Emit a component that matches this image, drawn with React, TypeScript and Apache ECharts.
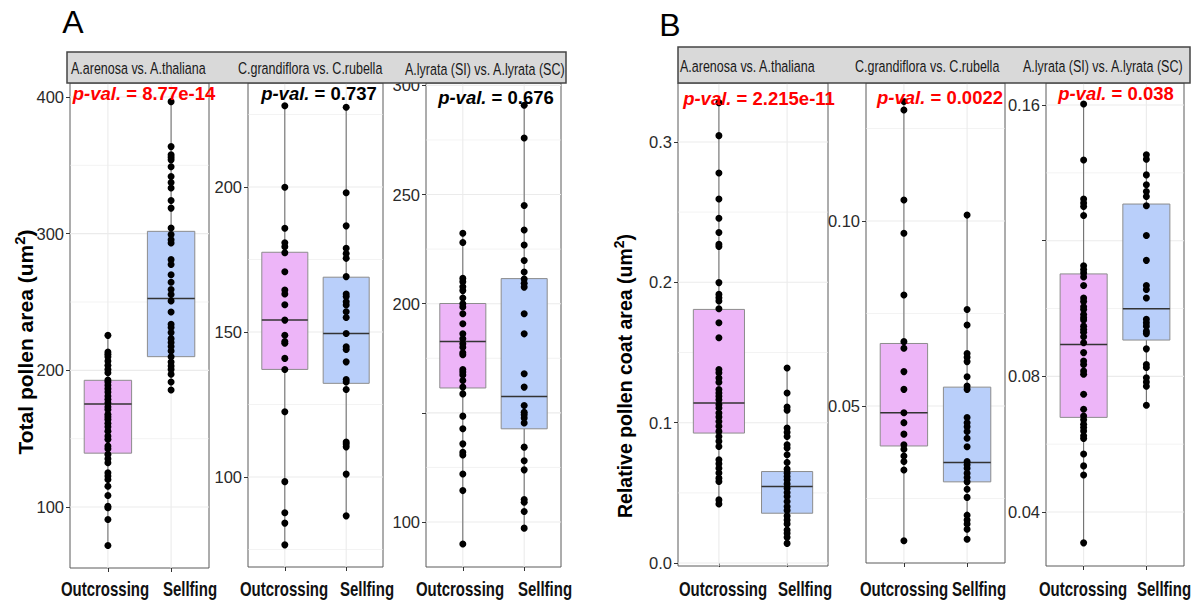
import React, { useEffect, useRef } from "react";
import * as echarts from "echarts";

// ---------- data ----------
const categories = ["Outcrossing", "Sellfing"];
const stripTitles = ["A.arenosa vs. A.thaliana", "C.grandiflora vs. C.rubella", "A.lyrata (SI) vs. A.lyrata (SC)"];
const titleA = "Total pollen area (um";
const titleB = "Relative pollen coat area (um";

// Panel A: total pollen area
const a1Out = [225.6, 213.4, 211.7, 210.0, 206.8, 203.7, 200.7, 198.3, 192.9, 191.4, 189.0, 186.6, 184.1, 181.2, 178.8, 176.3, 173.4, 171.4, 167.8, 166.0, 164.1, 161.2, 158.7, 155.5, 151.9, 149.5, 144.6, 142.6, 138.5, 135.3, 132.4, 125.0, 122.6, 120.1, 115.2, 108.4, 100.6, 99.4, 90.8, 71.8];
const a1Self = [396.6, 363.7, 357.7, 356.0, 354.0, 349.0, 341.8, 337.4, 333.4, 324.3, 318.7, 304.2, 299.3, 295.6, 293.2, 281.0, 277.4, 270.0, 264.5, 259.1, 255.5, 250.8, 242.7, 233.7, 231.3, 227.6, 223.2, 220.3, 217.4, 214.1, 210.0, 206.1, 203.2, 200.7, 197.1, 191.4, 185.6];
const a1Box = [[71.8, 139.4, 175.3, 192.7, 225.6], [185.6, 210.0, 252.5, 301.7, 396.6]];

const a2Out = [228.0, 199.9, 185.8, 180.8, 179.4, 177.3, 170.8, 164.5, 163.1, 159.4, 154.1, 148.9, 146.7, 146.1, 140.9, 137.1, 122.5, 98.4, 87.7, 84.1, 76.6];
const a2Self = [227.5, 198.0, 186.6, 178.9, 177.1, 175.4, 169.1, 163.1, 162.2, 160.4, 159.3, 157.0, 155.0, 149.5, 144.9, 144.0, 139.7, 133.6, 132.8, 130.2, 112.1, 111.4, 110.4, 101.0, 86.6];
const a2Box = [[76.6, 137.1, 154.1, 177.5, 228.0], [86.6, 132.3, 149.5, 168.9, 227.5]];

const a3Out = [232.3, 228.0, 211.6, 210.1, 207.8, 206.0, 202.6, 200.0, 198.5, 195.4, 190.8, 186.2, 183.9, 181.7, 180.1, 177.5, 176.6, 169.9, 168.7, 167.4, 164.8, 161.8, 158.7, 148.5, 142.7, 135.8, 132.0, 130.7, 122.0, 114.4, 89.9];
const a3Self = [290.9, 275.9, 245.0, 233.8, 226.9, 219.8, 214.5, 211.3, 209.4, 207.6, 195.4, 186.2, 167.9, 161.8, 153.4, 150.3, 149.1, 147.6, 145.4, 134.3, 128.1, 123.9, 110.3, 109.1, 104.8, 97.2];
const a3Box = [[89.9, 161.4, 182.7, 200.1, 232.3], [97.2, 142.7, 157.5, 211.5, 290.9]];

// Panel B: relative pollen coat area
const b1Out = [0.328, 0.3045, 0.2779, 0.2593, 0.2457, 0.2355, 0.2271, 0.2255, 0.1998, 0.1914, 0.189, 0.1867, 0.1812, 0.1712, 0.1605, 0.1379, 0.1355, 0.1319, 0.1288, 0.1236, 0.1212, 0.1188, 0.1164, 0.1129, 0.1105, 0.1069, 0.1041, 0.1009, 0.0974, 0.0938, 0.0902, 0.0867, 0.0831, 0.0736, 0.0707, 0.0676, 0.0641, 0.0605, 0.0581, 0.045, 0.0421];
const b1Self = [0.139, 0.1212, 0.1112, 0.1088, 0.0962, 0.0931, 0.0902, 0.0843, 0.0819, 0.0771, 0.0717, 0.0669, 0.0641, 0.0617, 0.0593, 0.0564, 0.0533, 0.0502, 0.0474, 0.0438, 0.0402, 0.0374, 0.0336, 0.0307, 0.0279, 0.0236, 0.0212, 0.0183, 0.014];
const b1Box = [[0.0421, 0.0926, 0.1141, 0.1807, 0.328], [0.014, 0.0355, 0.0545, 0.0652, 0.139]];

const b2Out = [0.1323, 0.13, 0.1057, 0.0967, 0.08, 0.0674, 0.0656, 0.0593, 0.0545, 0.0482, 0.0455, 0.0424, 0.0395, 0.0383, 0.0365, 0.035, 0.0327, 0.0136];
const b2Self = [0.1016, 0.0761, 0.0719, 0.0642, 0.0632, 0.062, 0.0579, 0.0554, 0.0545, 0.0469, 0.0455, 0.0444, 0.0431, 0.0413, 0.039, 0.035, 0.0341, 0.0332, 0.0318, 0.0307, 0.0295, 0.0275, 0.0253, 0.0205, 0.0192, 0.0181, 0.0167, 0.014];
const b2Box = [[0.0136, 0.0392, 0.0482, 0.0669, 0.1323], [0.014, 0.0295, 0.0347, 0.0551, 0.1016]];

const b3Out = [0.1603, 0.1438, 0.1323, 0.1311, 0.1301, 0.1274, 0.1126, 0.1115, 0.1105, 0.1093, 0.1068, 0.1031, 0.1021, 0.1005, 0.0997, 0.0982, 0.0973, 0.0966, 0.0948, 0.0938, 0.093, 0.0917, 0.0899, 0.087, 0.0845, 0.0835, 0.0816, 0.0806, 0.0747, 0.0703, 0.0683, 0.0672, 0.0659, 0.0649, 0.0639, 0.0625, 0.0617, 0.0571, 0.0536, 0.0509, 0.0309];
const b3Self = [0.1453, 0.144, 0.1394, 0.1365, 0.1345, 0.133, 0.1303, 0.1215, 0.1142, 0.1068, 0.1056, 0.1031, 0.0968, 0.0958, 0.0948, 0.0933, 0.0926, 0.0881, 0.0835, 0.0826, 0.0796, 0.0783, 0.0771, 0.0715];
const b3Box = [[0.0309, 0.0679, 0.0894, 0.1102, 0.1603], [0.0715, 0.0907, 0.0999, 0.1308, 0.1453]];

const pValues = ["8.77e-14", "0.737", "0.676", "2.215e-11", "0.0022", "0.038"];
const pSignificant = [true, false, false, true, true, true];

// tick values per panel
const yTicks = [[100, 200, 300, 400], [100, 150, 200], [100, 150, 200, 250, 300], [0, 0.1, 0.2, 0.3], [0.05, 0.1], [0.04, 0.08, 0.12, 0.16]];
const yLabels = [[100, 200, 300, 400], [100, 150, 200], [100, 200, 250, 300], [0, 0.1, 0.2, 0.3], [0.05, 0.1], [0.04, 0.08, 0.16]];
const yMinor = [[150, 250, 350], [75, 125, 175, 225], [125, 175, 225, 275], [0.05, 0.15, 0.25], [0.025, 0.075, 0.125], [0.06, 0.1, 0.14]];
const yRanges = [[55.37, 410.24], [68.97, 235.86], [79.4, 301.1], [-0.0021, 0.342], [0.00757, 0.1373], [0.02408, 0.16649]];

const panelOut = [a1Out, a2Out, a3Out, b1Out, b2Out, b3Out];
const panelSelf = [a1Self, a2Self, a3Self, b1Self, b2Self, b3Self];
const panelBox = [a1Box, a2Box, a3Box, b1Box, b2Box, b3Box];

// ---------- layout / style ----------
const FONT = "'Liberation Sans', Arial, sans-serif";
const grids = [
  { left: 70, top: 83, width: 139, height: 485 },
  { left: 248, top: 83, width: 135, height: 484 },
  { left: 426, top: 83, width: 135, height: 484 },
  { left: 678, top: 83, width: 150, height: 483 },
  { left: 866, top: 83, width: 139, height: 480 },
  { left: 1046, top: 83, width: 138, height: 483 },
];
const labelDecimals = [0, 0, 0, 1, 2, 2];
const fills = ["#EDB5F8", "#B9CFFA"];
const pPos = [[144, 93], [319, 93], [496, 97], [759, 98], [940, 97], [1116, 93]];
const stripTextPos = [[71, 68], [238, 68], [405, 69], [680, 66], [855, 66], [1023, 66]];
// x category label centres (x) per panel, label baseline centre y
const xLabelPos = [[105, 190], [284, 367], [460, 545], [723, 805], [904, 979], [1083, 1164]];
const xLabelY = 589;

export default function App() {
  const ref = useRef<HTMLDivElement>(null);
  useEffect(() => {
    if (!ref.current) return;
    const chart = echarts.init(ref.current, undefined, { renderer: "svg" });

    const xAxis: any[] = [];
    const yAxis: any[] = [];
    const series: any[] = [];
    const grid: any[] = [];

    grids.forEach((g, i) => {
      grid.push({ ...g, show: true, borderColor: "#5a5a5a", borderWidth: 1, backgroundColor: "transparent" });
      xAxis.push({
        type: "value", gridIndex: i, min: 0.4, max: 2.6,
        axisLine: { show: false },
        splitLine: { show: false },
        axisTick: { show: true, customValues: [1, 2], length: 4, lineStyle: { color: "#333" } },
        axisLabel: { show: false },
      });
      const dec = labelDecimals[i];
      yAxis.push({
        type: "value", gridIndex: i, min: yRanges[i][0], max: yRanges[i][1],
        axisLine: { show: false },
        splitLine: { show: false },
        axisTick: { show: true, customValues: yTicks[i], length: 4, lineStyle: { color: "#333" } },
        axisLabel: {
          show: true, customValues: yLabels[i], margin: 6,
          formatter: (v: number) => v.toFixed(dec),
          fontFamily: FONT, fontSize: 16.5, color: "#2a2a2a",
        },
      });

      const [ymin] = yRanges[i];
      const gridData: number[][] = [];
      yTicks[i].forEach((v) => gridData.push([0, v, 1]));
      yMinor[i].forEach((v) => gridData.push([0, v, 0]));
      [1, 2].forEach((v) => gridData.push([1, v, 1]));
      series.push({
        type: "custom", xAxisIndex: i, yAxisIndex: i, z: 1, silent: true,
        data: gridData,
        renderItem: (params: any, api: any) => {
          const cs = params.coordSys;
          const kind = api.value(0), v = api.value(1), major = api.value(2);
          const style = { stroke: "#EBEBEB", lineWidth: major ? 1.1 : 0.6 };
          if (kind === 0) {
            const y = api.coord([1, v])[1];
            return { type: "line", shape: { x1: cs.x, y1: y, x2: cs.x + cs.width, y2: y }, style };
          }
          const x = api.coord([v, ymin])[0];
          return { type: "line", shape: { x1: x, y1: cs.y, x2: x, y2: cs.y + cs.height }, style };
        },
      });

      const boxData = panelBox[i].map((b, k) => [k + 1, ...b, k]);
      series.push({
        type: "custom", xAxisIndex: i, yAxisIndex: i, z: 2, silent: true,
        data: boxData,
        renderItem: (params: any, api: any) => {
          const x = api.value(0);
          const pLow = api.coord([x, api.value(1)]);
          const pQ1 = api.coord([x, api.value(2)]);
          const pMed = api.coord([x, api.value(3)]);
          const pQ3 = api.coord([x, api.value(4)]);
          const pHigh = api.coord([x, api.value(5)]);
          const w = api.size([0.75, 0])[0];
          const cx = pLow[0];
          const fill = fills[api.value(6)];
          return {
            type: "group",
            children: [
              { type: "line", shape: { x1: cx, y1: pLow[1], x2: cx, y2: pQ1[1] }, style: { stroke: "#555", lineWidth: 0.9 } },
              { type: "line", shape: { x1: cx, y1: pQ3[1], x2: cx, y2: pHigh[1] }, style: { stroke: "#555", lineWidth: 0.9 } },
              { type: "rect", shape: { x: cx - w / 2, y: pQ3[1], width: w, height: pQ1[1] - pQ3[1] }, style: { fill, stroke: "#8c8c8c", lineWidth: 1 } },
              { type: "line", shape: { x1: cx - w / 2, y1: pMed[1], x2: cx + w / 2, y2: pMed[1] }, style: { stroke: "#333", lineWidth: 1.5 } },
            ],
          };
        },
      });

      const pts = panelOut[i].map((v) => [1, v]).concat(panelSelf[i].map((v) => [2, v]));
      series.push({
        type: "scatter", xAxisIndex: i, yAxisIndex: i, z: 3, silent: true,
        data: pts, symbolSize: 7, itemStyle: { color: "#000", opacity: 1 },
      });
    });

    const graphic: any[] = [];
    // strips
    graphic.push({ type: "rect", shape: { x: 67, y: 52, width: 499, height: 31 }, style: { fill: "#D9D9D9", stroke: "#444", lineWidth: 1.5 }, z: 10 });
    graphic.push({ type: "rect", shape: { x: 678, y: 47, width: 512, height: 36 }, style: { fill: "#D9D9D9", stroke: "#444", lineWidth: 1.5 }, z: 10 });
    stripTextPos.forEach((p, i) => {
      graphic.push({
        type: "text", x: p[0], y: p[1], z: 11, scaleX: 0.735,
        style: { text: stripTitles[i % 3], fontFamily: FONT, fontSize: 17, fill: "#1a1a1a", align: "left", verticalAlign: "middle" },
      });
    });
    // x category labels (condensed bold)
    xLabelPos.forEach((xs) => {
      xs.forEach((x, k) => {
        graphic.push({
          type: "text", x, y: xLabelY, z: 11, scaleX: 0.75,
          style: { text: categories[k], fontFamily: FONT, fontWeight: "bold", fontSize: 20, fill: "#111", align: "center", verticalAlign: "middle" },
        });
      });
    });
    // p-values
    pPos.forEach((p, i) => {
      const c = pSignificant[i] ? "#FF0000" : "#000000";
      graphic.push({
        type: "text", x: p[0], y: p[1], z: 12,
        style: {
          text: `{i|p-val.}{n| = ${pValues[i]}}`, align: "center", verticalAlign: "middle",
          rich: {
            i: { fontStyle: "italic", fontWeight: "bold", fontSize: 18.5, fontFamily: FONT, fill: c },
            n: { fontWeight: "bold", fontSize: 18.5, fontFamily: FONT, fill: c },
          },
        },
      });
    });
    // y titles
    const yTitle = (txt: string, x: number, y: number, size: number) => ({
      type: "text", x, y, rotation: Math.PI / 2, z: 12,
      style: {
        text: `{t|${txt}}{s|2}{t|)}`, align: "center", verticalAlign: "middle",
        rich: {
          t: { fontWeight: "bold", fontSize: size, fontFamily: FONT, fill: "#000", lineHeight: size + 6 },
          s: { fontWeight: "bold", fontSize: Math.round(size * 0.7), fontFamily: FONT, fill: "#000", verticalAlign: "top", lineHeight: size * 0.7 + 2 },
        },
      },
    });
    graphic.push(yTitle(titleA, 25, 342, 21));
    graphic.push(yTitle(titleB, 625, 376, 19.5));
    graphic.push({ type: "text", x: 73, y: 22, z: 12, style: { text: "A", fontFamily: FONT, fontSize: 32, fill: "#000", align: "center", verticalAlign: "middle" } });
    graphic.push({ type: "text", x: 670, y: 25, z: 12, style: { text: "B", fontFamily: FONT, fontSize: 32, fill: "#000", align: "center", verticalAlign: "middle" } });

    chart.setOption({
      animation: false,
      backgroundColor: "#ffffff",
      grid, xAxis, yAxis, series, graphic,
    });
    return () => chart.dispose();
  }, []);
  return <div ref={ref} style={{ position: "absolute", left: 0, top: 0, width: 1198, height: 609 }} />;
}
